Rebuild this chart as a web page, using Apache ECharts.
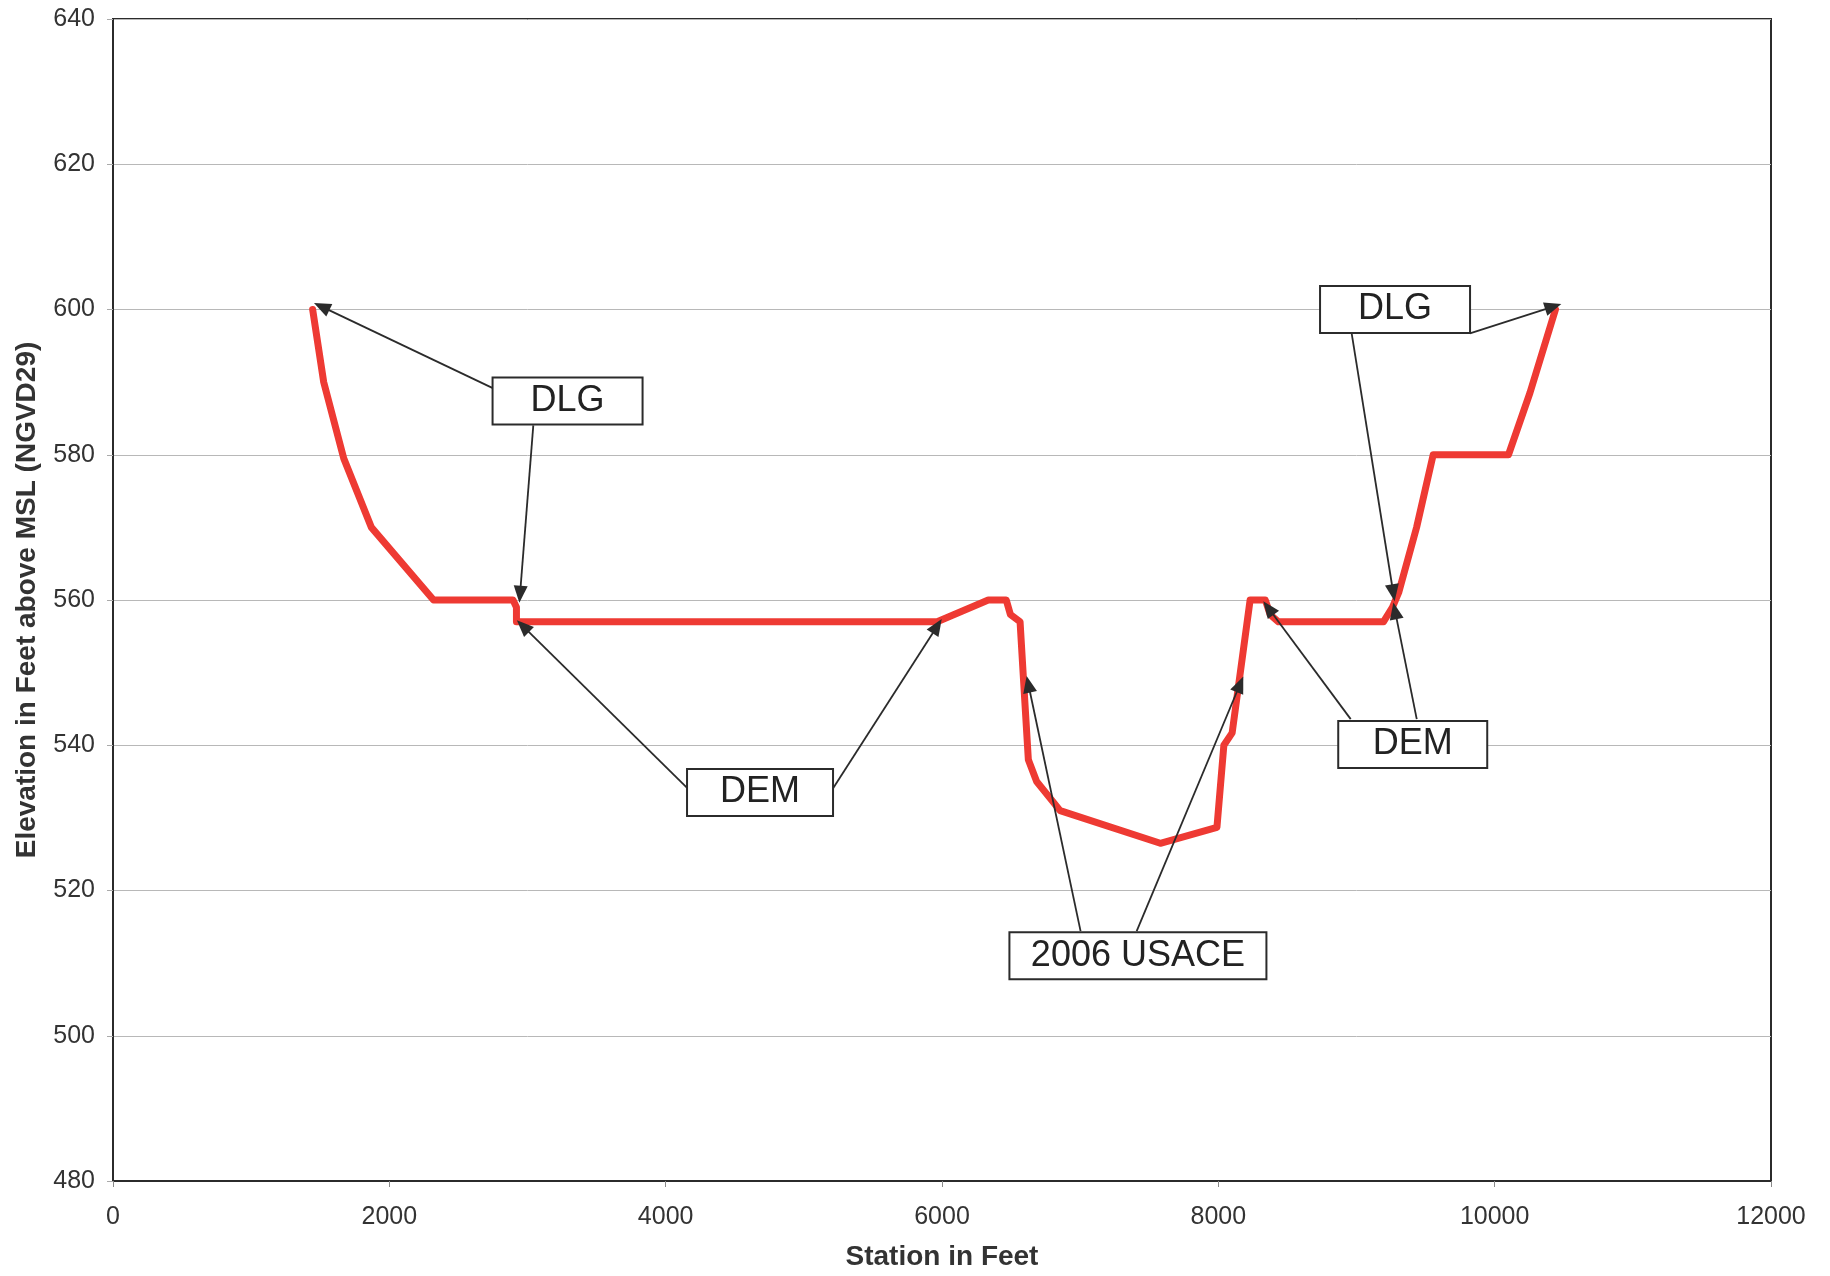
<!DOCTYPE html>
<html>
<head>
<meta charset="utf-8">
<script src="https://cdn.jsdelivr.net/npm/echarts@6/dist/echarts.min.js"></script>
<style>
html,body{margin:0;padding:0;background:#fff;}
#chart{width:1830px;height:1276px;}
</style>
</head>
<body>
<div id="chart"></div>
<script>
// Station (ft) and elevation (ft, NGVD29) along the cross-section
const stations = [1445,1525,1670,1870,2320,2895,2920,2920,5965,6335,6465,6495,6565,6590,6625,6685,6855,7580,7990,8040,8100,8230,8340,8375,8435,9195,9260,9305,9435,9555,10100,10255,10440];
const elevations = [600,590,579.5,570,560,560,559,557,557,560,560,558,557,549,538,535,531,526.5,528.7,540,541.7,560,560,558,557,557,559,561,570,580,580,588.5,600];

// Axis ticks
const xTicks = [0,2000,4000,6000,8000,10000,12000];
const yTicks = [480,500,520,540,560,580,600,620,640];

// Callout labels (data coordinates of box centres)
const calloutText = ['DLG','DEM','2006 USACE','DEM','DLG'];
const calloutStation = [3290,4683,7418,9407,9279];
const calloutElev = [587.4,533.5,511,540.1,600];
// Arrows: [fromStation, fromElev, toStation, toElev]
const arrows = [
  [2745,589.2,1510,600.4],
  [3042,584.05,2946,560.8],
  [4157,534.1,2967,556.4],
  [5213,534.1,5965,556.4],
  [7003,514.4,6625,548.4],
  [7409,514.4,8157,548.4],
  [8958,543.6,8362,558.9],
  [9436,543.6,9279,558.5],
  [8965,596.7,9266,561],
  [9821,596.7,10424,600.4]
];

const boxWidths = [150,146,257,149,150];

const chart = echarts.init(document.getElementById('chart'));
const FONT = '"Liberation Sans", Arial, sans-serif';

const profile = stations.map((s,i)=>[s, elevations[i]]);

const option = {
  animation: false,
  backgroundColor: '#fff',
  grid: {left:113, right:59, top:19, bottom:94, show:true, borderColor:'#2b2b2b', borderWidth:2, backgroundColor:'transparent'},
  xAxis: {
    type:'value', min:xTicks[0], max:xTicks[xTicks.length-1], interval:2000,
    name:'Station in Feet', nameLocation:'middle', nameGap:62,
    nameTextStyle:{fontFamily:FONT, fontSize:28, fontWeight:'bold', color:'#333'},
    axisLine:{show:true, onZero:false, lineStyle:{color:'#2b2b2b', width:2}},
    axisTick:{show:true, length:6, lineStyle:{color:'#888'}},
    axisLabel:{fontFamily:FONT, fontSize:25, color:'#333', margin:24, formatter:v=>String(v)},
    splitLine:{show:false}
  },
  yAxis: {
    type:'value', min:yTicks[0], max:yTicks[yTicks.length-1], interval:20,
    name:'Elevation in Feet above MSL (NGVD29)', nameLocation:'middle', nameGap:72,
    nameTextStyle:{fontFamily:FONT, fontSize:28, fontWeight:'bold', color:'#333'},
    axisLine:{show:true, onZero:false, lineStyle:{color:'#2b2b2b', width:2}},
    axisTick:{show:true, length:6, lineStyle:{color:'#aaa'}},
    axisLabel:{fontFamily:FONT, fontSize:25, color:'#333', margin:18, formatter:v=>String(v)},
    splitLine:{show:true, lineStyle:{color:'#b8b8b8', width:1}}
  },
  series: [
    {
      type:'line',
      data: profile,
      showSymbol:false,
      symbol:'none',
      lineStyle:{color:'#ee3a33', width:7, join:'round', cap:'round'},
      z:3
    },
    {
      type:'line',
      data:[],
      z:5,
      markLine:{
        silent:true,
        symbol:['none','triangle'],
        symbolSize:[14,17],
        label:{show:false},
        lineStyle:{color:'#2b2b2b', width:1.8, type:'solid'},
        data: arrows.map(a=>[{coord:[a[0],a[1]]},{coord:[a[2],a[3]]}])
      },
      markPoint:{
        silent:true,
        data: calloutText.map((t,i)=>({
          coord:[calloutStation[i], calloutElev[i]],
          symbol:'rect',
          symbolSize:1,
          itemStyle:{color:'rgba(0,0,0,0)'},
          label:{
            show:true, position:'inside', formatter:t,
            fontFamily:FONT, fontSize:36, color:'#222',
            width:boxWidths[i]-2, height:45, lineHeight:45,
            align:'center', verticalAlign:'middle',
            backgroundColor:'#fff', borderColor:'#2b2b2b', borderWidth:2, padding:0
          }
        }))
      }
    }
  ]
};
chart.setOption(option);
</script>
</body>
</html>
